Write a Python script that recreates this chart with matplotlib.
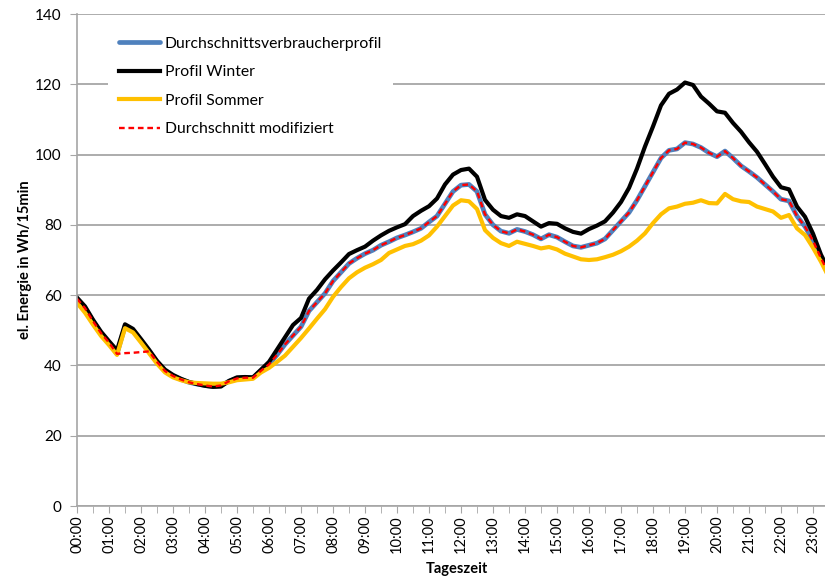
import numpy as np
import matplotlib
matplotlib.use("Agg")
import matplotlib.pyplot as plt
from matplotlib.ticker import MultipleLocator

plt.rcParams['font.family'] = ['Lato', 'DejaVu Sans']

# quarter-hour slots 00:00 .. 23:45
hours = ["%02d:00" % h for h in range(24)]

durchschnitt = [
    59.0, 56.3, 52.6, 49.2, 46.5, 43.3, 51.2, 49.9, 47.0, 44.0, 41.0, 38.4,
    37.0, 36.0, 35.2, 34.7, 34.3, 34.0, 34.3, 35.5, 36.3, 36.5, 36.5, 38.5,
    40.3, 43.0, 46.0, 48.5, 51.0, 55.5, 58.0, 60.5, 64.0, 66.5, 69.0, 70.5,
    71.8, 72.8, 74.2, 75.2, 76.3, 77.1, 78.0, 79.0, 80.8, 82.5, 86.0, 89.5,
    91.3, 91.5, 89.5, 83.0, 80.0, 78.2, 77.6, 78.7, 78.1, 77.2, 76.0, 77.2,
    76.5, 75.2, 74.0, 73.6, 74.2, 74.8, 76.0, 78.5, 81.0, 83.5, 87.0, 91.0,
    95.0, 99.0, 101.2, 101.6, 103.4, 103.0, 102.0, 100.5, 99.4, 101.0, 99.0, 96.8,
    95.2, 93.5, 91.5, 89.5, 87.3, 86.8, 82.5, 79.5, 75.5, 70.5, 66.0, 62.0,
]

winter = [
    59.3, 56.8, 53.0, 49.6, 46.9, 44.3, 51.7, 50.4, 47.5, 44.5, 41.3, 38.8,
    37.3, 36.2, 35.3, 34.7, 34.2, 33.9, 34.0, 35.6, 36.6, 36.7, 36.6, 38.8,
    41.0, 44.5, 48.0, 51.5, 53.5, 59.0, 61.5, 64.5, 67.0, 69.3, 71.7, 72.8,
    73.8, 75.5, 77.0, 78.3, 79.3, 80.2, 82.5, 84.0, 85.3, 87.5, 91.5, 94.3,
    95.6, 96.0, 93.7, 87.1, 84.3, 82.5, 82.0, 83.0, 82.5, 81.0, 79.5, 80.5,
    80.3, 79.0, 78.0, 77.5, 78.8, 79.8, 81.0, 83.5, 86.5, 90.5, 96.0, 102.3,
    108.0, 114.0, 117.3, 118.5, 120.5, 119.8, 116.5, 114.5, 112.3, 111.9, 109.0, 106.5,
    103.5, 100.8, 97.3, 93.7, 90.7, 90.1, 85.2, 82.3, 77.5, 71.5, 67.0, 63.0,
]

sommer = [
    57.8, 55.0, 51.6, 48.4, 45.8, 43.0, 50.6, 49.4, 46.5, 43.5, 40.5, 38.0,
    36.6, 35.8, 35.2, 35.0, 34.9, 34.8, 34.8, 35.2, 35.8, 36.0, 36.2, 38.0,
    39.3, 41.0, 42.8, 45.3, 47.8, 50.5, 53.3, 56.0, 59.5, 62.3, 64.8, 66.5,
    67.8, 68.8, 70.0, 72.0, 73.0, 74.0, 74.5, 75.5, 77.0, 79.5, 82.5, 85.5,
    87.0, 86.7, 84.5, 78.5, 76.3, 74.8, 74.0, 75.2, 74.6, 74.0, 73.3, 73.7,
    73.0, 71.8, 71.0, 70.2, 70.0, 70.2, 70.8, 71.5, 72.5, 73.8, 75.5, 77.6,
    80.5, 83.0, 84.7, 85.2, 86.0, 86.3, 87.0, 86.2, 86.1, 88.8, 87.3, 86.7,
    86.5, 85.2, 84.5, 83.8, 82.0, 82.8, 79.0, 77.1, 73.5, 69.5, 65.0, 61.0,
]

# modified average: the peak around 01:30 replaced
mod_slots = [6, 7, 8]
mod_values = [43.5, 43.6, 43.8]

modifiziert = list(durchschnitt)
for i, v in zip(mod_slots, mod_values):
    modifiziert[i] = v

x = np.arange(len(durchschnitt))

fig = plt.figure(figsize=(8.25, 5.81), dpi=100)
ax = fig.add_axes([77 / 825, 75 / 581, 760 / 825, 492 / 581])

ax.plot(x, durchschnitt, color='#4F81BD', lw=3.4, label='Durchschnittsverbraucherprofil', solid_capstyle='round')
ax.plot(x, winter, color='black', lw=3.0, label='Profil Winter')
ax.plot(x, sommer, color='#FFC000', lw=3.0, label='Profil Sommer')
ax.plot(x, modifiziert, color='#FF0000', lw=1.7, ls=(0, (2.4, 1.6)), label='Durchschnitt modifiziert')

ax.set_xlim(0, 95)
ax.set_ylim(0, 140)
ax.yaxis.set_major_locator(MultipleLocator(20))
ax.grid(axis='y', color='#A6A6A6', lw=1.3)
ax.set_axisbelow(True)

ax.set_xticks(np.arange(0, 96, 4))
ax.set_xticklabels(hours, rotation=90, fontsize=10.5)
ax.set_xticks(np.arange(2, 96, 4), minor=True)
ax.tick_params(axis='x', which='both', length=5, color='#A6A6A6', pad=2)
ax.tick_params(axis='y', length=5, color='#A6A6A6', labelsize=11, pad=6)

for s in ['top', 'right']:
    ax.spines[s].set_visible(False)
for s in ['left', 'bottom']:
    ax.spines[s].set_color('#A6A6A6')
    ax.spines[s].set_linewidth(1.2)

ax.set_ylabel('el. Energie in Wh/15min', fontsize=10.5, fontweight='bold', labelpad=2)
ax.set_xlabel('Tageszeit', fontsize=10.5, fontweight='bold', labelpad=6)

leg = ax.legend(loc='upper left', bbox_to_anchor=(108 / 825, 1 - 26 / 581),
                bbox_transform=fig.transFigure, fontsize=11.3, frameon=True,
                facecolor='white', edgecolor='none', framealpha=1, fancybox=False,
                handlelength=2.6, handletextpad=0.3, labelspacing=0.92,
                borderaxespad=0, borderpad=0.7)

fig.savefig('out.png', dpi=100)
